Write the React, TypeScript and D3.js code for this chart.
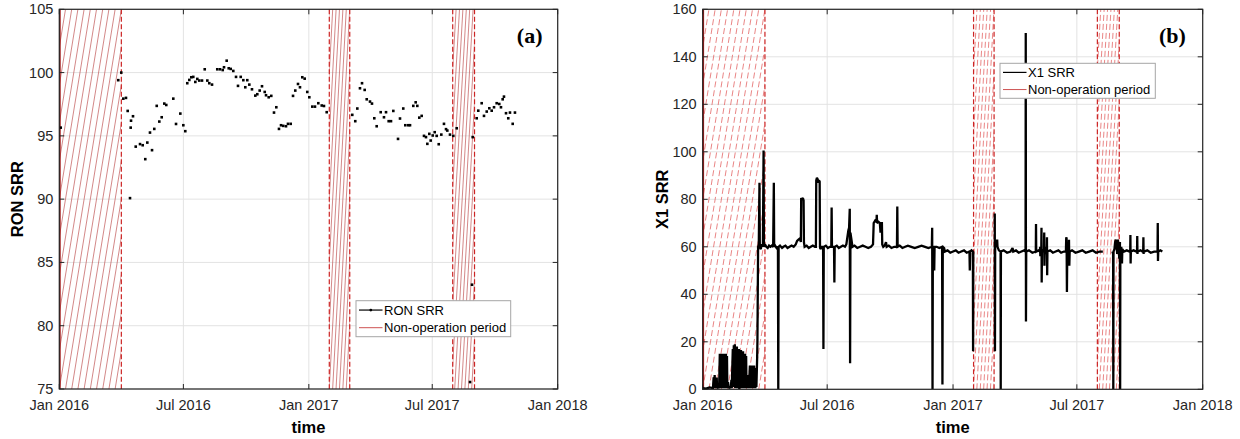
import React from 'react';
import * as d3 from 'd3';

const DAY = 864e5;
const T0 = Date.UTC(2016, 0, 1);
const dayToDate = (d: number) => new Date(T0 + d * DAY);
const isoToDate = (s: string) => new Date(s + 'T00:00:00Z');

// ---------- data ----------
const xTickDates = ['2016-01-01', '2016-07-01', '2017-01-01', '2017-07-01', '2018-01-01'];
const xTickLabels = ['Jan 2016', 'Jul 2016', 'Jan 2017', 'Jul 2017', 'Jan 2018'];
const ronTicks = [75, 80, 85, 90, 95, 100, 105];
const x1Ticks = [0, 20, 40, 60, 80, 100, 120, 140, 160];
const nonOpPeriods: [string, string][] = [
  ['2016-01-01', '2016-04-01'],
  ['2017-01-31', '2017-03-02'],
  ['2017-07-31', '2017-09-01'],
];
const legendLabelsA = ['RON SRR', 'Non-operation period'];
const legendLabelsB = ['X1 SRR', 'Non-operation period'];

// RON SRR: [days since 2016-01-01, value]
const ronSamples: [number, number][] = [
  [2.1, 95.65], [86.5, 99.4], [90.9, 100.0], [93.9, 97.94], [97.8, 98.0], [100.3, 96.97],
  [103.7, 90.08], [104.7, 95.65], [105.2, 96.2], [108.1, 96.55], [112.1, 94.15], [118.4, 94.35],
  [122.3, 94.26], [126.1, 93.16], [129.1, 94.47], [133.0, 95.26], [136.0, 93.87], [139.3, 95.55],
  [142.9, 97.37], [146.7, 96.13], [150.2, 96.47], [154.0, 97.55], [156.9, 97.44], [167.2, 97.94],
  [171.2, 95.94], [177.5, 96.76], [181.9, 95.84], [184.8, 95.37], [187.7, 99.16], [190.7, 99.42],
  [193.6, 99.63], [196.5, 99.66], [199.5, 99.26], [202.4, 99.5], [205.3, 99.37], [209.3, 99.37],
  [213.3, 100.26], [217.1, 99.37], [220.0, 99.16], [224.0, 99.05], [231.7, 100.26], [235.7, 100.26],
  [239.7, 100.2], [241.6, 100.42], [245.5, 100.94], [248.5, 100.34], [251.4, 100.29], [255.2, 100.13],
  [259.2, 99.66], [262.1, 98.95], [266.1, 99.66], [269.9, 99.4], [272.8, 98.84], [275.7, 99.4],
  [278.7, 99.05], [282.6, 98.68], [287.5, 98.18], [290.4, 98.29], [293.9, 98.58], [297.3, 98.92],
  [301.3, 98.47], [303.2, 98.21], [307.1, 98.05], [310.9, 98.16], [314.9, 96.84], [318.3, 97.26],
  [322.2, 95.55], [325.2, 95.84], [328.5, 95.79], [332.5, 95.76], [335.4, 95.95], [339.4, 95.95],
  [342.8, 98.16], [346.1, 98.58], [350.1, 99.1], [353.0, 98.84], [356.4, 99.63], [359.9, 99.52],
  [363.7, 98.47], [366.7, 98.05], [371.1, 97.31], [375.0, 97.31], [379.9, 97.58], [384.9, 97.4],
  [388.2, 97.36], [392.2, 96.87], [429.7, 96.66], [434.1, 96.16], [437.1, 97.16], [441.0, 98.76],
  [444.0, 99.16], [447.9, 98.63], [450.9, 97.89], [455.7, 97.71], [458.6, 97.55], [462.0, 96.39],
  [465.5, 95.76], [471.4, 96.87], [476.2, 96.47], [479.2, 96.87], [483.1, 96.16], [486.5, 96.16],
  [489.9, 96.97], [496.8, 94.76], [499.7, 96.37], [504.5, 97.16], [507.5, 95.84], [511.9, 95.84],
  [514.4, 95.84], [519.2, 97.37], [522.7, 97.65], [525.1, 97.37], [528.0, 96.44], [531.5, 96.58],
  [534.9, 95.0], [537.8, 94.9], [539.8, 94.37], [542.7, 95.16], [544.7, 94.63], [547.7, 95.03],
  [550.6, 95.29], [553.5, 95.0], [556.5, 94.34], [560.3, 95.1], [564.2, 95.95], [567.2, 95.53],
  [569.1, 95.42], [573.0, 95.1], [577.9, 95.0], [582.9, 95.6], [602.4, 75.55], [605.3, 83.24],
  [606.3, 94.9], [612.2, 96.39], [614.5, 96.99], [619.5, 97.58], [622.9, 96.58], [626.9, 96.92],
  [630.7, 97.18], [634.2, 96.99], [637.6, 97.26], [641.5, 97.58], [645.3, 97.52], [647.8, 97.26],
  [650.3, 97.89], [652.2, 98.1], [655.2, 96.79], [658.5, 96.39], [661.0, 96.84], [665.0, 95.95],
  [668.3, 96.84],
];

// X1 SRR: [days since 2016-01-01, value] (null = gap)
const x1Samples: [number, number | null][] = [
  [0, 0.5], [5, 0.3], [10, 0.8], [15, 0.5], [16, 5], [16.5, 0.5], [17.5, 6], [18, 1], [19, 4], [19.5, 0.5],
  [20.5, 5], [21, 0.5], [23, 1], [24, 0.5], [25, 15], [25.5, 1], [26.5, 14.5], [27, 0.5], [28, 15], [28.5, 2],
  [29.5, 14], [30, 0.5], [31, 15], [31.5, 1], [32.5, 13], [33, 0.5], [34, 15], [34.5, 0.5], [35.5, 14], [36, 0.5],
  [37, 3], [38, 0.5], [40, 1], [41, 0.5], [42, 4], [42.5, 0.5], [44, 17], [44.5, 1], [45.5, 18.5], [46, 2],
  [47, 19], [47.5, 0.5], [48.5, 17], [49, 1], [50, 18], [50.5, 0.5], [51.5, 16], [52, 1], [53, 17], [53.5, 0],
  [54.5, 15], [55, 1], [56, 16.5], [56.5, 0.5], [57.5, 15], [58, 1], [59, 16], [59.5, 0.5], [60.5, 12], [61, 1],
  [62, 15], [62.5, 0.5], [63.5, 14], [64, 0.5], [65, 6], [65.5, 0.5], [67, 3], [67.5, 0.5], [69, 10], [69.5, 0.5],
  [70.5, 9], [71, 1], [72, 10], [72.5, 0.5], [73.5, 8], [74, 1], [75, 10], [75.5, 0.5], [76.5, 9], [77, 0.5],
  [78, 7], [78.5, 1], [79.5, 12], [80, 20], [80.5, 40], [81, 60], [82, 61], [83, 87], [83.5, 60], [85, 59],
  [86, 61], [88, 60], [89, 100.5], [89.5, 60], [91, 61], [93, 60], [95, 59.5], [97, 60.5], [99, 60], [101, 60.5],
  [103, 60], [104, 87], [104.5, 60], [106, 60.5], [108, 59.5], [110, 60], [110.5, 0], [111, 60], [113, 60.5],
  [116, 59.5], [118, 60], [121, 60.5], [124, 59.5], [127, 60], [130, 60.5], [133, 60], [136, 61], [138, 62.5],
  [140, 63], [142, 63.5], [143.5, 62], [144, 80.5], [145, 80], [146.5, 80.5], [147.5, 79.5], [148, 62], [149, 60],
  [152, 60.5], [155, 59.5], [158, 60], [161, 60.5], [164, 60], [165.5, 60], [166, 88], [167, 89], [168, 88.5],
  [169, 87], [170, 88], [171, 87.5], [171.5, 60], [172, 59], [174, 60], [176, 60], [176.5, 17], [177, 60],
  [180, 60.5], [183, 59.5], [186, 60], [188, 60], [188.5, 76.5], [189, 60], [192, 60], [192.5, 45], [193, 60],
  [196, 60.5], [199, 59.5], [202, 60], [205, 60.5], [208, 60], [210, 61], [211, 63], [212, 65], [213, 67],
  [214, 68], [215, 76], [215.5, 11], [216, 66], [217, 64], [218, 62], [219, 60], [222, 60.5], [226, 59.5],
  [230, 60], [234, 60.5], [238, 60], [242, 59.5], [246, 60], [249, 61], [250, 70], [252, 71], [254, 70.5],
  [254.5, 73.5], [255, 70], [257, 70.5], [259, 70], [260, 66], [261, 70], [262, 70], [262.5, 61], [264, 60],
  [266, 60.5], [268, 62], [269, 60], [272, 60.5], [276, 59.5], [280, 60], [284, 60], [284.5, 77], [285, 60],
  [288, 60.5], [292, 59.5], [296, 60], [300, 60.5], [305, 60], [310, 59.5], [315, 60], [320, 60.5], [325, 60],
  [330, 59.5], [335, 60], [335.5, 68], [336, 0], [336.5, 60], [338, 59.5], [338.5, 50], [339, 60], [342, 60],
  [346, 59.5], [350, 60], [350.5, 2], [351, 60], [353, 59.5], [354, 58], [358, 58.5], [362, 57.5], [366, 58],
  [370, 58.5], [374, 57.5], [378, 58], [382, 58.5], [386, 57.5], [390, 58], [390.5, 50], [391, 58], [393, 58.5],
  [395, 58], [395.3, 16], [395.6, 58], [396, null],
  [427, 74], [427.3, 16], [427.6, 60], [429, 61], [430.5, 63], [431, 60], [433, 58.5], [435.5, 58], [435.7, 0],
  [436, 58], [440, 58.5], [445, 57.5], [450, 58], [453, 59.5], [454, 58], [458, 58.5], [462, 57.5], [466, 58],
  [470, 58.5], [472, 58], [472.3, 150], [472.6, 28.5], [473, 58], [477, 58.5], [482, 57.5], [487, 58],
  [487.3, 69.6], [487.6, 58], [491, 58.5], [493, 58], [493.3, 60], [493.6, 56], [494, 58], [495, 58], [495.3, 68],
  [495.6, 45], [496, 58], [497, 58.5], [499, 58], [499.3, 66], [499.6, 52], [500, 58], [501.5, 58], [501.8, 60],
  [502, 57], [503, 58], [503.3, 64], [503.6, 48], [504, 58], [508, 58.5], [512, 57.5], [516, 58], [520, 58.5],
  [524, 57.5], [528, 58], [531, 58], [531.5, 64], [532, 63.5], [532.5, 41], [533, 58], [535, 58], [535.5, 63],
  [536, 52], [536.5, 58], [540, 58.5], [545, 57.5], [550, 58], [555, 58.5], [560, 57.5], [565, 58], [570, 58.5],
  [575, 57.5], [580, 58], [585, 58], [586, null],
  [599, 58], [600, 57], [600.3, 0], [600.6, 58], [602, 59], [603, 62], [604, 63], [605, 61], [606, 57], [607, 63],
  [608, 60], [609, 55], [610, 62], [610.3, 0], [610.6, 58], [612, 60], [613, 53], [613.5, 59], [616, 58],
  [620, 58.5], [624, 58], [625, 58], [625.3, 65], [625.6, 53], [626, 58], [630, 58.5], [634, 58], [635, 58],
  [635.3, 64.5], [635.6, 57], [636, 58], [640, 58.5], [643, 58], [644, 58], [644.3, 64], [644.6, 57], [645, 58],
  [650, 58.5], [655, 57.5], [660, 58], [664, 58], [665, 58], [665.3, 70], [665.6, 54], [666, 58], [669, 58.5],
  [672, 58],
];

// ---------- drawing ----------
const FONT = "'Liberation Sans', Arial, Helvetica, sans-serif";
const TXT = '#262626';

type Box = { left: number; right: number; top: number; bottom: number };

function Hatch({ x0, x1, y0, y1, dashed, id }: { x0: number; x1: number; y0: number; y1: number; dashed: boolean; id: string }) {
  const w = x1 - x0;
  const step = Math.max(w / 10, 3.4);
  const offs: number[] = [];
  for (let s = -w; s <= w + 0.01; s += step) offs.push(s);
  const color = dashed ? '#e05050' : '#c05454';
  return (
    <g>
      <clipPath id={id}>
        <rect x={x0} y={y0} width={w} height={y1 - y0} />
      </clipPath>
      <g clipPath={`url(#${id})`}>
        {offs.map((s, i) => (
          <line key={i} x1={x0 + s} y1={y1} x2={x0 + s + w} y2={y0} stroke={color} strokeWidth={0.7}
            strokeDasharray={dashed ? '6,3' : undefined} />
        ))}
      </g>
    </g>
  );
}

function Panel({ box, yDomain, yTicks, yLabel, yLabelX, tag, tagX, legend, legendLabels, prefix, dashedHatch, children }: any) {
  const b: Box = box;
  const x = d3.scaleUtc().domain([isoToDate('2016-01-01'), isoToDate('2018-01-01')]).range([b.left, b.right]);
  const y = d3.scaleLinear().domain(yDomain).range([b.bottom, b.top]);
  const tickLen = 5;
  return (
    <g>
      {xTickDates.map((d, i) => (
        <line key={'gx' + i} x1={x(isoToDate(d))} x2={x(isoToDate(d))} y1={b.top} y2={b.bottom} stroke="#e3e3e3" strokeWidth={1} />
      ))}
      {yTicks.map((t: number, i: number) => (
        <line key={'gy' + i} x1={b.left} x2={b.right} y1={y(t)} y2={y(t)} stroke="#e3e3e3" strokeWidth={1} />
      ))}
      {nonOpPeriods.map(([a, c], i) => {
        const x0 = x(isoToDate(a));
        const x1 = x(isoToDate(c));
        const atAxis = Math.abs(x0 - b.left) < 0.5;
        return (
          <g key={'np' + i}>
            <Hatch x0={x0} x1={x1} y0={b.top} y1={b.bottom} dashed={dashedHatch} id={`${prefix}h${i}`} />
            {atAxis ? (
              <line x1={x0 + 0.6} x2={x0 + 0.6} y1={b.top} y2={b.bottom} stroke="#a01818" strokeWidth={1.6} />
            ) : (
              <line x1={x0} x2={x0} y1={b.top} y2={b.bottom} stroke="#cc2424" strokeWidth={1.2} strokeDasharray="5,2.5" />
            )}
            <line x1={x1} x2={x1} y1={b.top} y2={b.bottom} stroke="#cc2424" strokeWidth={1.2} strokeDasharray="5,2.5" />
          </g>
        );
      })}
      {children(x, y)}
      <rect x={b.left} y={b.top} width={b.right - b.left} height={b.bottom - b.top} fill="none" stroke="#262626" strokeWidth={1.2} />
      {xTickDates.map((d, i) => {
        const px = x(isoToDate(d));
        return (
          <g key={'tx' + i}>
            <line x1={px} x2={px} y1={b.bottom} y2={b.bottom - tickLen} stroke="#262626" strokeWidth={1} />
            <line x1={px} x2={px} y1={b.top} y2={b.top + tickLen} stroke="#262626" strokeWidth={1} />
            <text x={px} y={b.bottom + 21} textAnchor="middle" fontFamily={FONT} fontSize={14.5} fill={TXT}>{xTickLabels[i]}</text>
          </g>
        );
      })}
      {yTicks.map((t: number, i: number) => (
        <g key={'ty' + i}>
          <line x1={b.left} x2={b.left + tickLen} y1={y(t)} y2={y(t)} stroke="#262626" strokeWidth={1} />
          <line x1={b.right} x2={b.right - tickLen} y1={y(t)} y2={y(t)} stroke="#262626" strokeWidth={1} />
          <text x={b.left - 6} y={y(t) + 5} textAnchor="end" fontFamily={FONT} fontSize={14.5} fill={TXT}>{t}</text>
        </g>
      ))}
      <text x={(b.left + b.right) / 2} y={432.5} textAnchor="middle" fontFamily={FONT} fontWeight="bold" fontSize={16.5} fill="#000">time</text>
      <text transform={`translate(${yLabelX},${(b.top + b.bottom) / 2}) rotate(-90)`} textAnchor="middle" dominantBaseline="central"
        fontFamily={FONT} fontWeight="bold" fontSize={16.5} fill="#000">{yLabel}</text>
      <text x={tagX} y={43} textAnchor="middle" fontFamily="'Liberation Serif', 'Times New Roman', serif" fontWeight="bold" fontSize={22} fill="#000">{tag}</text>
      <g>
        <rect x={legend.x} y={legend.y} width={legend.w} height={legend.h} fill="#fff" stroke="#a6a6a6" strokeWidth={1} />
        <line x1={legend.x + 3} x2={legend.x + 26.5} y1={legend.y + legend.h * 0.26} y2={legend.y + legend.h * 0.26} stroke="#000" strokeWidth={1.2} />
        {legend.dot && <circle cx={legend.x + 14.8} cy={legend.y + legend.h * 0.26} r={1.4} fill="#000" />}
        <line x1={legend.x + 3} x2={legend.x + 26.5} y1={legend.y + legend.h * 0.75} y2={legend.y + legend.h * 0.75} stroke="#c84040" strokeWidth={0.9} />
        <text x={legend.x + 28} y={legend.y + legend.h * 0.26 + 4.6} fontFamily={FONT} fontSize={13} fill="#000">{legendLabels[0]}</text>
        <text x={legend.x + 28} y={legend.y + legend.h * 0.75 + 4.6} fontFamily={FONT} fontSize={13} fill="#000">{legendLabels[1]}</text>
      </g>
    </g>
  );
}

export default function App() {
  const boxA: Box = { left: 59.3, right: 557.7, top: 9.3, bottom: 389 };
  const boxB: Box = { left: 702.7, right: 1202.7, top: 9.3, bottom: 389.3 };
  return (
    <svg width={1240} height={439} style={{ position: 'absolute', left: 0, top: 0, display: 'block', background: '#fff' }}>
      <rect x={0} y={0} width={1240} height={439} fill="#fff" />
      <Panel box={boxA} yDomain={[75, 105]} yTicks={ronTicks} yLabel="RON SRR" yLabelX={17} tag="(a)" tagX={529.7}
        legend={{ x: 356, y: 300.7, w: 154.7, h: 36, dot: true }} legendLabels={legendLabelsA} prefix="a" dashedHatch={false}>
        {(x: any, y: any) => (
          <g>
            {ronSamples.map(([d, v], i) => (
              <rect key={i} x={x(dayToDate(d)) - 1.3} y={y(v) - 1.3} width={2.6} height={2.6} fill="#000" />
            ))}
          </g>
        )}
      </Panel>
      <Panel box={boxB} yDomain={[0, 160]} yTicks={x1Ticks} yLabel="X1 SRR" yLabelX={661.7} tag="(b)" tagX={1172.5}
        legend={{ x: 1000, y: 63.3, w: 155.3, h: 35, dot: false }} legendLabels={legendLabelsB} prefix="b" dashedHatch={true}>
        {(x: any, y: any) => {
          const line = d3.line<[number, number | null]>()
            .defined((p) => p[1] !== null)
            .x((p) => x(dayToDate(p[0])))
            .y((p) => y(p[1] as number));
          return (
            <g>
              <clipPath id="bclip"><rect x={boxB.left} y={boxB.top} width={boxB.right - boxB.left} height={boxB.bottom - boxB.top} /></clipPath>
              <path d={line(x1Samples) || ''} fill="none" stroke="#000" strokeWidth={2.3} strokeLinejoin="miter" strokeMiterlimit={2} clipPath="url(#bclip)" />
            </g>
          );
        }}
      </Panel>
    </svg>
  );
}
